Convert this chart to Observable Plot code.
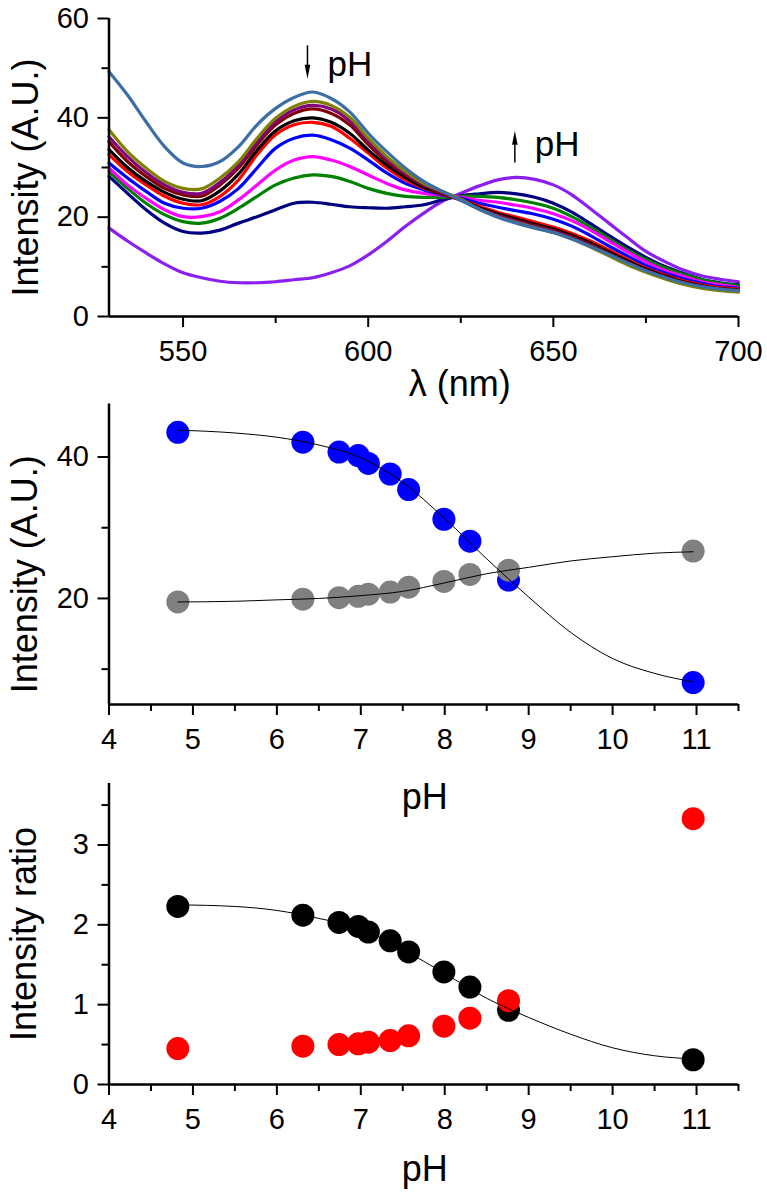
<!DOCTYPE html>
<html><head><meta charset="utf-8">
<script src="https://cdn.jsdelivr.net/npm/d3@7"></script>
<script src="https://cdn.jsdelivr.net/npm/@observablehq/plot@0.6"></script>
<style>
html,body{margin:0;padding:0;background:#fff;}
#wrap{position:relative;width:767px;height:1194px;overflow:hidden;background:#fff;}
.panel{position:absolute;left:0;}
</style></head><body>
<div id="wrap">
  <div class="panel" id="p1" style="top:0px"></div>
  <div class="panel" id="p2" style="top:400px"></div>
  <div class="panel" id="p3" style="top:780px"></div>
</div>
<script>
// ---------- Panel 1: emission spectra ----------
const wavelengths = [530,535,540,545,550,555,560,565,570,575,580,585,590,595,600,605,610,615,620,625,630,635,640,645,650,655,660,665,670,675,680,685,690,695,700];
const specSteelBlue = [49.3,44.6,39.2,34.2,30.9,30.2,31.2,34.2,38.6,41.9,44.1,45.2,43.9,41.2,36.9,33.2,29.9,27.2,25.2,23.4,21.6,20.0,18.8,17.8,16.9,15.6,14.1,12.5,10.8,9.2,7.9,6.8,6.0,5.5,5.2];
const specOlive     = [37.6,33.2,29.9,27.2,25.8,25.7,27.9,31.2,35.9,39.9,42.3,43.3,42.5,40.1,35.9,32.2,29.2,26.8,25.2,23.6,21.6,20.1,18.9,17.9,16.9,15.6,14.0,12.2,10.4,8.9,7.6,6.5,5.7,5.2,4.9];
const specPurple    = [36.2,32.2,29.0,26.5,25.0,24.8,27.0,30.5,35.2,39.2,41.6,42.5,41.8,39.4,35.3,31.7,28.8,26.6,25.0,23.5,21.6,20.3,19.1,18.1,17.1,15.8,14.2,12.4,10.6,9.1,7.8,6.7,5.9,5.4,5.1];
const specWine      = [35.2,31.2,28.2,25.8,24.5,24.2,26.5,29.9,34.6,38.6,40.9,41.8,40.9,38.6,34.6,31.2,28.5,26.4,24.8,23.4,21.7,20.4,19.3,18.3,17.3,16.0,14.5,12.7,10.9,9.3,8.0,6.9,6.1,5.5,5.2];
const specBlack     = [33.6,30.0,27.2,25.0,23.6,23.3,25.3,28.7,33.5,37.4,39.4,40.0,39.1,36.9,33.5,30.5,28.0,26.0,24.7,23.5,21.9,20.7,19.6,18.6,17.6,16.3,14.8,13.0,11.2,9.5,8.2,7.0,6.2,5.6,5.3];
const specRed       = [32.6,29.2,26.5,24.2,22.8,22.5,24.2,27.5,32.6,36.6,38.6,39.1,38.3,35.9,32.9,29.9,27.5,25.8,24.6,23.5,22.2,21.0,20.0,19.0,18.0,16.7,15.2,13.4,11.5,9.7,8.4,7.2,6.4,5.8,5.5];
const specBlue      = [30.9,27.9,25.2,22.8,21.8,21.8,23.2,25.8,29.9,33.9,35.9,36.5,35.6,33.9,31.5,28.9,26.8,25.5,24.5,23.8,22.8,22.0,21.3,20.6,19.6,18.2,16.3,14.2,12.2,10.3,8.8,7.6,6.7,6.0,5.7];
const specMagenta   = [29.9,26.5,23.8,21.5,20.1,20.1,21.1,23.5,26.5,29.5,31.5,32.2,31.5,30.2,28.5,26.8,25.5,24.8,24.4,24.0,23.4,23.0,22.4,21.7,20.7,19.3,17.4,15.2,13.0,11.0,9.3,8.1,7.0,6.4,5.8];
const specGreen     = [29.2,25.8,22.8,20.5,19.1,18.8,19.8,21.8,24.2,26.5,27.9,28.5,28.2,27.2,25.8,24.8,24.2,24.0,24.0,24.2,24.2,24.0,23.5,22.8,21.8,20.1,18.0,15.7,13.4,11.5,9.8,8.5,7.4,6.7,6.2];
const specNavy      = [28.2,24.8,21.5,18.8,17.1,16.8,17.4,18.8,20.1,21.5,22.8,23.0,22.6,22.1,21.9,21.8,22.1,22.5,23.5,24.3,24.7,25.0,24.7,24.0,22.8,21.0,18.7,16.3,14.0,11.9,10.1,8.7,7.5,6.8,6.4];
const specViolet    = [17.8,15.2,12.8,10.6,8.8,7.8,7.1,6.8,6.8,7.0,7.4,7.8,8.8,10.2,12.4,15.1,18.1,20.8,23.2,24.8,26.3,27.5,28.0,27.6,26.5,24.5,21.7,18.8,15.9,13.1,11.1,9.4,8.2,7.5,7.0];

const spectraSeries = [
  {name: "violet", values: specViolet},
  {name: "navy", values: specNavy},
  {name: "green", values: specGreen},
  {name: "magenta", values: specMagenta},
  {name: "blue", values: specBlue},
  {name: "red", values: specRed},
  {name: "black", values: specBlack},
  {name: "wine", values: specWine},
  {name: "purple", values: specPurple},
  {name: "olive", values: specOlive},
  {name: "steelblue", values: specSteelBlue}
];
const spectraColors = {violet:"#8a1ff0", navy:"#000080", green:"#008000", magenta:"#ff00ff", blue:"#0000ff", red:"#ff0000", black:"#000000", wine:"#800000", purple:"#800080", olive:"#808000", steelblue:"#3b6ea5"};

const p1XTicks = [550,600,650,700];
const p1XMinor = [575,625,675];
const p1YTicks = [0,20,40,60];
const p1YMinor = [10,30,50];

// annotations (data coordinates: wavelength, intensity)
const arrowDown = {x: 583.6, yTail: 54.6, yHead: 49.3};
const arrowUp = {x: 639.6, yTail: 31.0, yHead: 36.0};
const annotText = [{x: 589.0, y: 48.5, label: "pH"}, {x: 645.0, y: 32.4, label: "pH"}];

// ---------- Panel 2/3: titration ----------
const pHValues = [4.82,6.31,6.74,6.97,7.09,7.35,7.57,7.99,8.30,8.76,10.96];
const intensity585 = [43.5,42.1,40.7,40.2,39.1,37.6,35.4,31.2,28.1,22.6,8.1];
const intensity640 = [19.5,19.9,20.1,20.3,20.6,20.9,21.6,22.4,23.4,24.0,26.7];
const ratio585 = [2.23,2.12,2.03,1.98,1.91,1.80,1.66,1.41,1.22,0.93,0.31];
const ratio640 = [0.45,0.48,0.50,0.51,0.53,0.55,0.61,0.73,0.83,1.05,3.33];

const fitPH = [4.82,5.5,6.0,6.5,7.0,7.5,8.0,8.5,9.0,9.5,10.0,10.5,10.96];
const fit585 = [43.8,43.4,42.8,41.7,39.9,36.4,31.3,25.6,20.2,15.2,11.5,9.4,8.2];
const fit640 = [19.5,19.6,19.8,20.0,20.4,21.0,22.2,23.5,24.4,25.3,25.9,26.4,26.6];
const fitRatio = [2.25,2.23,2.18,2.08,1.95,1.69,1.39,1.08,0.84,0.63,0.46,0.36,0.32];

const pHTicks = [4,5,6,7,8,9,10,11];
const pHMinor = [4.5,5.5,6.5,7.5,8.5,9.5,10.5,11.5];
const p2YTicks = [20,40];
const p2YMinor = [10,30];
const p3YTicks = [0,1,2,3];
const p3YMinor = [0.5,1.5,2.5,3.5];

// ---------- helpers ----------
const FONT = '"Liberation Sans", Arial, Helvetica, sans-serif';
const baseStyle = {fontFamily: FONT, fontSize: "29px", background: "transparent", overflow: "visible", color: "#000"};
const W = 767, ML = 108.5, MR = 29;
const intFmt = d => String(d);

function axesMarks(xT, xM, yT, yM, xLo, yLo) {
  return [
    Plot.ruleX([xLo], {stroke: "#000", strokeWidth: 2.5}),
    Plot.ruleY([yLo], {stroke: "#000", strokeWidth: 2.5}),
    Plot.axisX(xT, {tickSize: 11, tickPadding: 13, strokeWidth: 2, label: null, fontSize: 29, tickFormat: intFmt}),
    Plot.axisX(xM, {tickSize: 7, tickFormat: () => "", strokeWidth: 2, label: null}),
    Plot.axisY(yT, {tickSize: 11, tickPadding: 9, strokeWidth: 2, label: null, fontSize: 29, tickFormat: intFmt}),
    Plot.axisY(yM, {tickSize: 7, tickFormat: () => "", strokeWidth: 2, label: null})
  ];
}

const arrowSymbol = {
  draw(context, size) {
    context.moveTo(-2.8, -7);
    context.lineTo(2.8, -7);
    context.lineTo(0, 7);
    context.closePath();
  }
};

function yTitle(label, dx, dy) {
  return Plot.text([label], {frameAnchor: "left", text: d => d, rotate: -90, textAnchor: "middle", lineAnchor: "middle", dx, dy, fontSize: 36, fill: "#000"});
}
function xTitle(label, dx, dy) {
  return Plot.text([label], {frameAnchor: "bottom", text: d => d, textAnchor: "middle", lineAnchor: "bottom", dx, dy, fontSize: 36, fill: "#000"});
}

// ---------- Panel 1 ----------
const specMarks = spectraSeries.map(s =>
  Plot.line(s.values.map((v, j) => ({wl: wavelengths[j], I: v})), {
    x: "wl", y: "I", stroke: spectraColors[s.name], strokeWidth: 3.2, curve: "catmull-rom"
  })
);

const p1 = Plot.plot({
  width: W, height: 410, marginLeft: ML, marginRight: MR, marginTop: 18, marginBottom: 94,
  style: baseStyle,
  x: {domain: [530, 700]},
  y: {domain: [0, 60]},
  marks: [
    ...specMarks,
    ...axesMarks(p1XTicks, p1XMinor, p1YTicks, p1YMinor, 530, 0),
    Plot.link([arrowDown], {x1: "x", x2: "x", y1: "yTail", y2: "yHead", stroke: "#000", strokeWidth: 1.5}),
    Plot.dot([arrowDown], {x: "x", y: "yHead", symbol: arrowSymbol, r: 4, fill: "#000", stroke: "none"}),
    Plot.link([arrowUp], {x1: "x", x2: "x", y1: "yTail", y2: "yHead", stroke: "#000", strokeWidth: 1.5}),
    Plot.dot([arrowUp], {x: "x", y: "yHead", symbol: arrowSymbol, r: 4, rotate: 180, fill: "#000", stroke: "none"}),
    Plot.text(annotText, {x: "x", y: "y", text: "label", textAnchor: "start", lineAnchor: "bottom", fontSize: 35, fill: "#000"}),
    yTitle("Intensity (A.U.)", -83, 10),
    xTitle("λ (nm)", 36, 79)
  ]
});
document.getElementById("p1").appendChild(p1);

// ---------- Panel 2 ----------
const p2Blue = pHValues.map((p, i) => ({pH: p, v: intensity585[i]}));
const p2Gray = pHValues.map((p, i) => ({pH: p, v: intensity640[i]}));
const p2FitBlue = fitPH.map((p, i) => ({pH: p, v: fit585[i]}));
const p2FitGray = fitPH.map((p, i) => ({pH: p, v: fit640[i]}));

const p2 = Plot.plot({
  width: W, height: 420, marginLeft: ML, marginRight: MR, marginTop: 3.5, marginBottom: 116,
  style: baseStyle,
  x: {domain: [4, 11.5]},
  y: {domain: [5, 47.5]},
  marks: [
    Plot.dot(p2Blue, {x: "pH", y: "v", r: 11.5, fill: "#0000ff", stroke: "none"}),
    Plot.dot(p2Gray, {x: "pH", y: "v", r: 11.5, fill: "#808080", stroke: "none"}),
    Plot.line(p2FitBlue, {x: "pH", y: "v", stroke: "#000", strokeWidth: 1, curve: "monotone-x"}),
    Plot.line(p2FitGray, {x: "pH", y: "v", stroke: "#000", strokeWidth: 1, curve: "monotone-x"}),
    ...axesMarks(pHTicks, pHMinor, p2YTicks, p2YMinor, 4, 5),
    yTitle("Intensity (A.U.)", -84, 20),
    xTitle("pH", 1, 104)
  ]
});
document.getElementById("p2").appendChild(p2);

// ---------- Panel 3 ----------
const p3Black = pHValues.map((p, i) => ({pH: p, v: ratio585[i]}));
const p3Red = pHValues.map((p, i) => ({pH: p, v: ratio640[i]}));
const p3Fit = fitPH.map((p, i) => ({pH: p, v: fitRatio[i]}));

const p3 = Plot.plot({
  width: W, height: 414, marginLeft: ML, marginRight: MR, marginTop: 3, marginBottom: 110,
  style: baseStyle,
  x: {domain: [4, 11.5]},
  y: {domain: [0, 3.77]},
  marks: [
    Plot.dot(p3Black, {x: "pH", y: "v", r: 11.5, fill: "#000000", stroke: "none"}),
    Plot.dot(p3Red, {x: "pH", y: "v", r: 11.5, fill: "#ff0000", stroke: "none"}),
    Plot.line(p3Fit, {x: "pH", y: "v", stroke: "#000", strokeWidth: 1, curve: "monotone-x"}),
    ...axesMarks(pHTicks, pHMinor, p3YTicks, p3YMinor, 4, 0),
    yTitle("Intensity ratio", -85, 0),
    xTitle("pH", 1, 96)
  ]
});
document.getElementById("p3").appendChild(p3);
</script>
</body></html>
